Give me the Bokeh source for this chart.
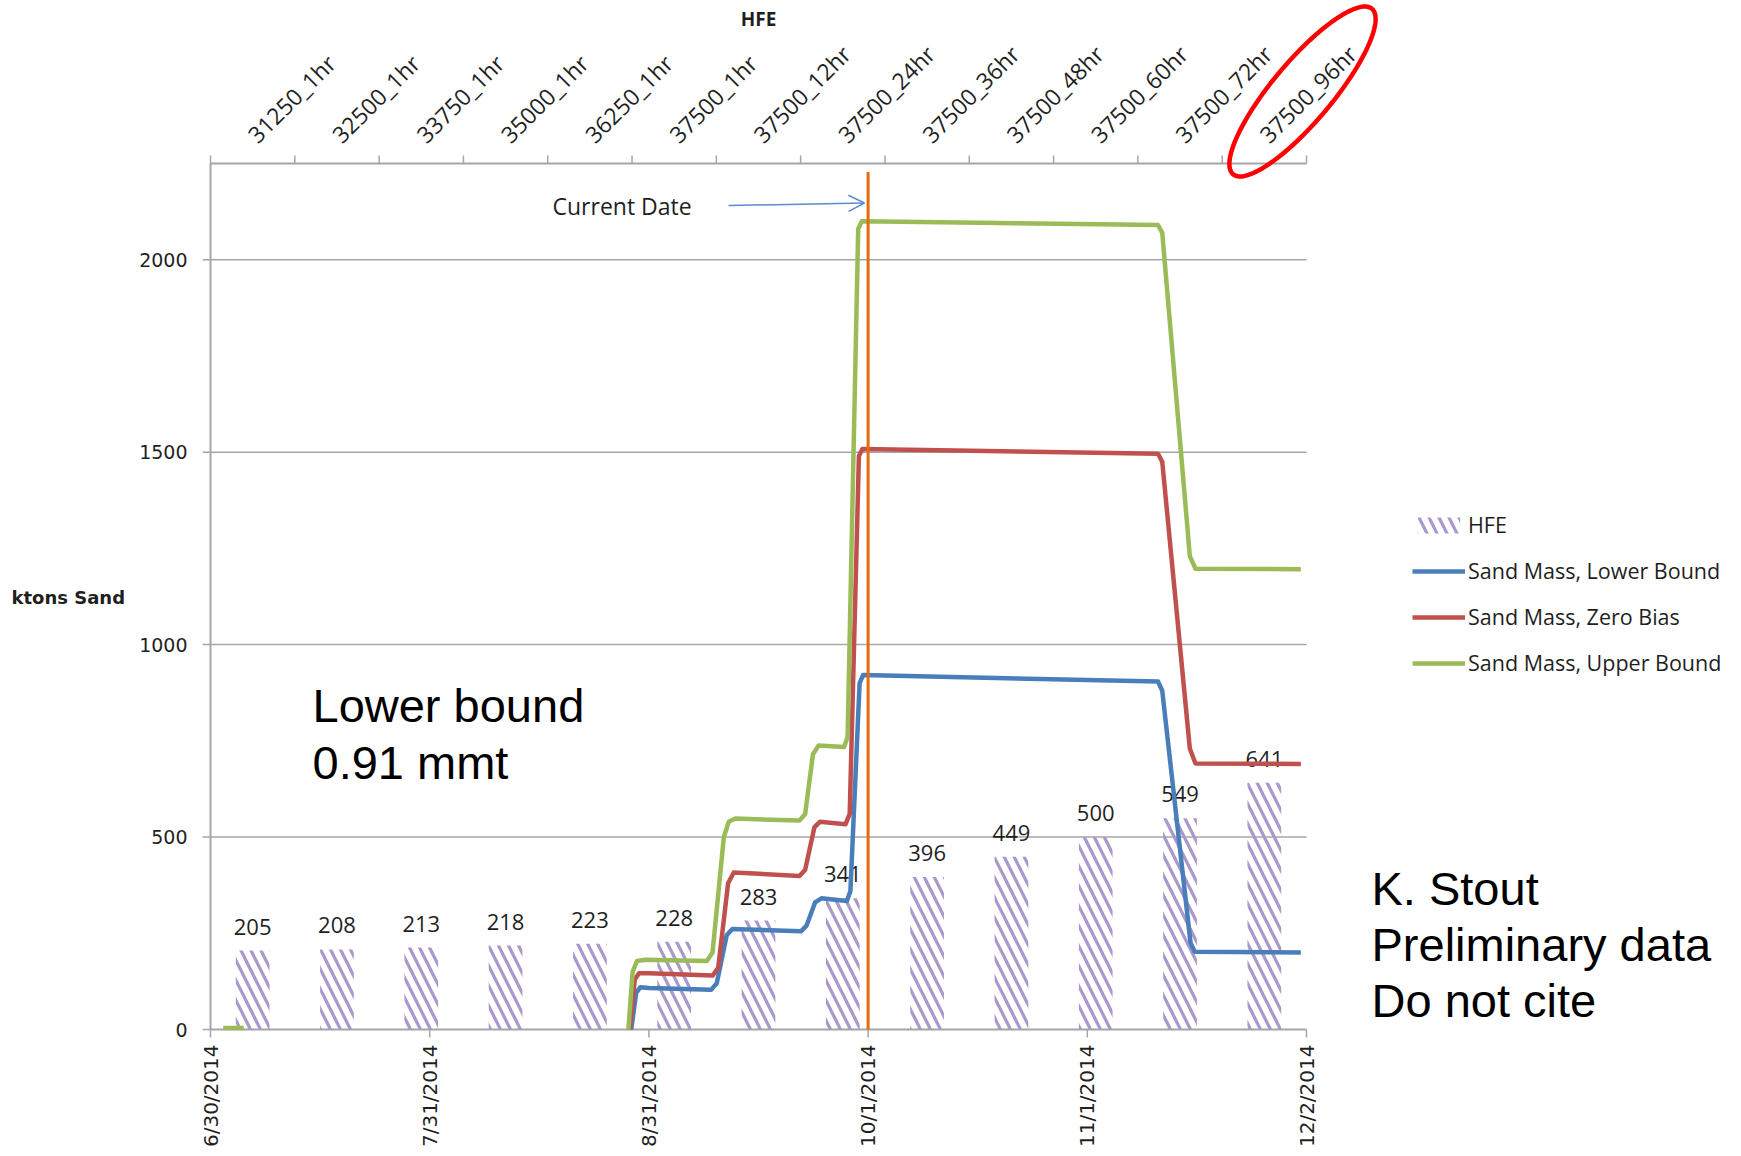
import math
import numpy as np
import pandas as pd
from bokeh.plotting import figure
from bokeh.models import (Range1d, ColumnDataSource,
                          Legend, LegendItem, Label, Arrow, OpenHead, PolyAnnotation)
from bokeh.core.properties import value
from bokeh.embed import file_html
from bokeh.resources import INLINE

# ---------------- data ----------------
START = "2014-06-30"
END = "2014-12-02"
DATE_TICKS = ["2014-06-30", "2014-07-31", "2014-08-31", "2014-10-01", "2014-11-01", "2014-12-02"]
DATE_TICK_LABELS = ["6/30/2014", "7/31/2014", "8/31/2014", "10/1/2014", "11/1/2014", "12/2/2014"]
Y_TICKS = [0, 500, 1000, 1500, 2000]
Y_TICK_LABELS = ["0", "500", "1000", "1500", "2000"]
Y_MAX = 2250

HFE_CATS = ["31250_1hr", "32500_1hr", "33750_1hr", "35000_1hr", "36250_1hr", "37500_1hr",
            "37500_12hr", "37500_24hr", "37500_36hr", "37500_48hr", "37500_60hr",
            "37500_72hr", "37500_96hr"]
HFE_VALUES = [205, 208, 213, 218, 223, 228, 283, 341, 396, 449, 500, 549, 641]

# sand mass series: days after 6/30/2014 and ktons
LOWER_DAYS = [59.5, 60.2, 60.8, 62.0, 70.8, 71.6, 73.0, 73.8, 83.5, 84.3, 85.5, 86.4,
              90.0, 90.5, 91.8, 92.3, 134.0, 134.6, 138.6, 139.2, 154.2]
LOWER_VALUES = [0, 95, 110, 108, 103, 120, 245, 261, 255, 270, 330, 341,
                334, 360, 900, 921, 904, 880, 225, 202, 200]

ZERO_DAYS = [59.3, 60.0, 60.6, 62.0, 71.0, 71.8, 73.2, 74.0, 83.3, 84.1, 85.4, 86.2,
             89.8, 90.4, 91.7, 92.2, 134.0, 134.6, 138.5, 139.3, 154.2]
ZERO_VALUES = [0, 130, 146, 146, 140, 160, 380, 408, 399, 415, 525, 540,
               533, 560, 1490, 1508, 1496, 1475, 730, 691, 690]

UPPER_DAYS = [1.8, 4.7, 5.0, 59.1, 59.7, 60.3, 61.5, 70.2, 71.0, 72.6, 73.3, 74.2, 83.3,
              84.1, 85.2, 86.0, 89.6, 90.1, 91.6, 92.1, 134.0, 134.6, 138.5, 139.3, 154.2]
UPPER_VALUES = [4, 4, float("nan"), 0, 150, 178, 181, 178, 200, 500, 540, 548, 543,
                560, 715, 738, 734, 760, 2080, 2100, 2090, 2070, 1230, 1197, 1196]

CURRENT_DATE = "2014-10-01"
CURRENT_TOP = 2228

# ---------------- style / layout ----------------
C_LOWER = "#4a7ebb"
C_ZERO = "#c0504d"
C_UPPER = "#9bbb59"
C_HATCH = "#a998cb"
C_ORANGE = "#e46c0a"
C_GRID = "#a6a6a6"
C_TEXT = "#1f1f1f"
C_ARROW = "#5b8bd0"
XL_FONT = "Open Sans"
AX_FONT = "DejaVu Sans"

W, H = 1741, 1156
# pixel positions of the plot-area corners (start/end date, 0/Y_MAX)
FL, FR, FT, FB = 210, 1306, 163, 1029

t0 = pd.Timestamp(START)
span_days = (pd.Timestamp(END) - t0).days
def to_dt(days):
    return (t0 + pd.to_timedelta(np.array(days, dtype=float), unit="D")).to_numpy()
def ms(d):
    return int(pd.Timestamp(d).value // 10**6)
def day_ms(days):
    return ms(t0) + days * 86400000.0
def px_x(px):       # screen x -> datetime ms
    return day_ms((px - FL) / (FR - FL) * span_days)
def px_y(py):       # screen y -> ktons
    return (FB - py) / (FB - FT) * Y_MAX

n_cat = len(HFE_CATS)
cat_pos = [i + 0.5 for i in range(n_cat)]
cat_edges = list(range(n_cat + 1))
x0 = ms(START)
x1 = ms(END)
date_ticks_ms = [ms(d) for d in DATE_TICKS]

# the frame covers the whole page, so that both scales, the notes, the legend
# and the top category scale can all be drawn inside it
p = figure(width=W, height=H, x_axis_type="datetime", title=None,
           x_axis_location=None, y_axis_location=None,
           x_range=Range1d(px_x(0), px_x(W)), y_range=Range1d(px_y(H), px_y(0)),
           min_border_left=0, min_border_right=0, min_border_top=0,
           min_border_bottom=0, output_backend="svg", toolbar_location=None)
p.outline_line_color = None
p.background_fill_color = "white"
p.border_fill_color = "white"
p.xgrid.grid_line_color = None
p.ygrid.grid_line_color = None
p.extra_x_ranges = {"hfe": Range1d(-FL / (FR - FL) * n_cat, (W - FL) / (FR - FL) * n_cat)}

# horizontal grid lines across the plot area only
grid_y = Y_TICKS[1:]
p.segment(x0=[x0] * len(grid_y), x1=[x1] * len(grid_y), y0=grid_y, y1=grid_y,
          line_color=C_GRID, line_width=1.5)

# value scale on the left
p.segment(x0=[x0], x1=[x0], y0=[0], y1=[Y_MAX], line_color=C_GRID, line_width=2)
p.ray(x=[x0] * len(Y_TICKS), y=Y_TICKS, length=8, angle=math.pi, length_units="screen",
      line_color=C_GRID, line_width=1.5)
p.text(x=[x0] * len(Y_TICKS), y=Y_TICKS, text=Y_TICK_LABELS, text_align="right",
       text_baseline="middle", x_offset=-23, text_font=value(AX_FONT),
       text_font_size="19px", text_color=C_TEXT)
p.add_layout(Label(x=px_x(11), y=px_y(597), text="ktons Sand", text_align="left",
                   text_baseline="middle", text_font=AX_FONT, text_font_style="bold",
                   text_font_size="18px", text_color=C_TEXT))

# date scale at the bottom
p.segment(x0=[x0], x1=[x1], y0=[0], y1=[0], line_color=C_GRID, line_width=2)
p.ray(x=date_ticks_ms, y=[0] * len(date_ticks_ms), length=8, angle=-math.pi / 2,
      length_units="screen", line_color=C_GRID, line_width=1.5)
p.text(x=date_ticks_ms, y=[0] * len(date_ticks_ms), text=DATE_TICK_LABELS,
       angle=math.pi / 2, text_align="right", text_baseline="middle", y_offset=15,
       text_font=value(AX_FONT), text_font_size="20px", text_color=C_TEXT)

# top HFE category scale
p.segment(x0=[0], x1=[n_cat], y0=[Y_MAX], y1=[Y_MAX], x_range_name="hfe",
          line_color=C_GRID, line_width=2)
p.ray(x=cat_edges, y=[Y_MAX] * len(cat_edges), length=8, angle=math.pi / 2,
      length_units="screen", x_range_name="hfe", line_color=C_GRID, line_width=1.5)
p.text(x=cat_pos, y=[Y_MAX] * n_cat, text=HFE_CATS, x_range_name="hfe",
       angle=math.pi / 4, text_align="left", text_baseline="middle",
       x_offset=-1, y_offset=-25, text_font=value(XL_FONT), text_font_size="23px",
       text_color=C_TEXT)
p.add_layout(Label(x=n_cat / 2, y=px_y(18), x_range_name="hfe", text="HFE",
                   text_align="center", text_baseline="middle", text_font=XL_FONT,
                   text_font_style="bold", text_font_size="19px", text_color=C_TEXT))

# bars
src = ColumnDataSource(dict(x=cat_pos, top=HFE_VALUES, lab=[str(v) for v in HFE_VALUES]))
bars = p.vbar(x="x", top="top", width=0.4, x_range_name="hfe", source=src,
              fill_color=None, line_color=None, hatch_pattern="\\",
              hatch_color=C_HATCH, hatch_weight=3.2, hatch_scale=20)
p.text(x="x", y="top", text="lab", x_range_name="hfe", source=src,
       text_align="center", text_baseline="bottom", y_offset=-16,
       text_font=value(XL_FONT), text_font_size="22px", text_color=C_TEXT)

# lines
r_low = p.line(to_dt(LOWER_DAYS), LOWER_VALUES, line_color=C_LOWER, line_width=4.5,
               line_join="round")
r_zero = p.line(to_dt(ZERO_DAYS), ZERO_VALUES, line_color=C_ZERO, line_width=4.5,
                line_join="round")
r_up = p.line(to_dt(UPPER_DAYS), UPPER_VALUES, line_color=C_UPPER, line_width=4.5,
              line_join="round")

# current date line
cd = pd.Timestamp(CURRENT_DATE).to_datetime64()
p.segment(x0=[cd], y0=[0], x1=[cd], y1=[CURRENT_TOP], line_color=C_ORANGE, line_width=3)

# current date annotation
p.add_layout(Label(x=px_x(552), y=px_y(205), text="Current Date", text_font=XL_FONT,
                   text_font_size="23px", text_color=C_TEXT, text_baseline="middle"))
p.add_layout(Arrow(end=OpenHead(size=16, line_color=C_ARROW, line_width=1.5),
                   x_start=px_x(728), y_start=px_y(205), x_end=px_x(864), y_end=px_y(202.5),
                   line_color=C_ARROW, line_width=1.5))

# big text notes
for txt, px, py in [("Lower bound", 312, 705), ("0.91 mmt", 312, 762),
                    ("K. Stout", 1371, 888), ("Preliminary data", 1371, 944),
                    ("Do not cite", 1371, 1000)]:
    p.add_layout(Label(x=px_x(px), y=px_y(py), text=txt, text_font="Liberation Sans",
                       text_font_size="47px", text_color="black",
                       text_baseline="alphabetic"))

# red ellipse around the last category label
cx, cy, a, b, ang = 1302, 91, 108, 30, math.radians(50)
ex, ey = [], []
for i in range(120):
    t = 2 * math.pi * i / 120
    sx = cx + a * math.cos(t) * math.cos(ang) - b * math.sin(t) * math.sin(ang)
    sy = cy - (a * math.cos(t) * math.sin(ang) + b * math.sin(t) * math.cos(ang))
    ex.append(px_x(sx))
    ey.append(px_y(sy))
p.add_layout(PolyAnnotation(xs=ex, ys=ey, fill_color=None, fill_alpha=0,
                            line_color="#ff0000", line_alpha=1.0, line_width=4.5))

# legend
legend = Legend(items=[LegendItem(label="HFE", renderers=[bars]),
                       LegendItem(label="Sand Mass, Lower Bound", renderers=[r_low]),
                       LegendItem(label="Sand Mass, Zero Bias", renderers=[r_zero]),
                       LegendItem(label="Sand Mass, Upper Bound", renderers=[r_up])],
                location=(1412, H - 677), orientation="vertical",
                glyph_width=53, glyph_height=20, label_height=20, spacing=17,
                padding=0, margin=0, label_standoff=3,
                label_text_font=XL_FONT, label_text_font_size="21.5px",
                label_text_color=C_TEXT, border_line_color=None,
                background_fill_alpha=0)
p.add_layout(legend, "center")

open("out.html", "w").write(file_html(p, INLINE))
